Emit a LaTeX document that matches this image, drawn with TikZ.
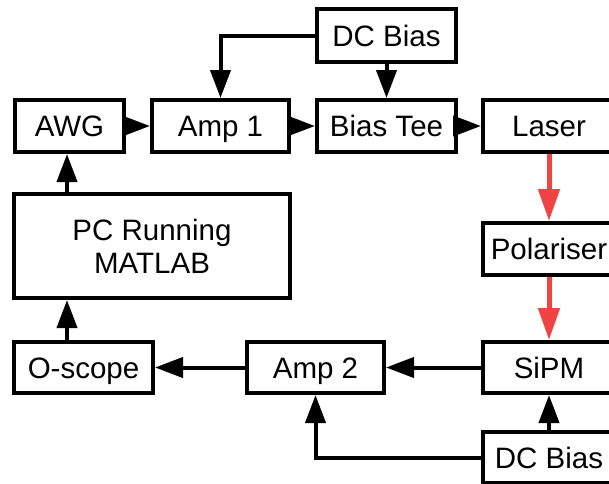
\documentclass[tikz,border=0pt]{standalone}
\usepackage{fontspec}
\setmainfont{Liberation Sans}
\usetikzlibrary{arrows.meta,calc}
\definecolor{beamred}{RGB}{240,68,68}
\begin{document}
\begin{tikzpicture}[x=1pt,y=-1pt,
  box/.style={draw=black,line width=4pt,inner sep=0pt,minimum height=52pt,
    font=\fontsize{29.5}{33}\selectfont,align=center},
  oneline/.style={box,text height=21.1pt,text depth=0pt},
  arr/.style={line width=4pt,-{Triangle[length=28pt,width=20pt]}},
  beam/.style={draw=beamred,line width=5pt,-{Triangle[length=32pt,width=21pt]}}]
\useasboundingbox (0,0) rectangle (609,483);
\clip (0,0) rectangle (609,483);
\node[oneline,minimum width=139pt,minimum height=53pt] (dctop) at (386.5,35.5) {DC Bias};
\node[oneline,minimum width=109pt] (awg) at (69.5,126) {AWG};
\node[oneline,minimum width=137pt] (amp1) at (220.5,126) {Amp 1};
\node[oneline,minimum width=139pt] (tee) at (386.5,126) {Bias Tee};
\node[oneline,minimum width=132pt] (laser) at (549,126) {Laser};
\node[box,minimum width=276pt,minimum height=104pt] (pc) at (152,246) {PC Running\\MATLAB};
\node[oneline,minimum width=132pt] (pol) at (549,249) {Polariser};
\node[oneline,minimum width=139pt,minimum height=51pt] (osc) at (83.5,367.5) {O-scope};
\node[oneline,minimum width=137pt,minimum height=51pt] (amp2) at (315.5,367.5) {Amp 2};
\node[oneline,minimum width=132pt,minimum height=51pt] (sipm) at (549,367.5) {SiPM};
\node[oneline,minimum width=132pt,minimum height=51pt] (dcbot) at (549,457.5) {DC Bias};
% top row
\draw[arr] (dctop.west) -| (amp1.north);
\draw[arr] (dctop.south) -- (tee.north);
\draw[arr] (awg.east) -- (amp1.west);
\draw[arr] (amp1.east) -- (tee.west);
\draw[arr] (tee.east) -- (laser.west);
% optical path
\draw[beam] (laser.south) -- (pol.north);
\draw[beam] (pol.south) -- (sipm.north);
% bottom row
\draw[arr] (sipm.west) -- (amp2.east);
\draw[arr] (amp2.west) -- (osc.east);
\draw[arr] ([xshift=-2.5pt]awg.south |- osc.north) -- ([xshift=-2.5pt]awg.south |- pc.south);
\draw[arr] ([xshift=-2.5pt]awg.south |- pc.north) -- ([xshift=-2.5pt]awg.south);
\draw[arr] (dcbot.north) -- (sipm.south);
\draw[arr] (dcbot.west) -| (amp2.south);
\end{tikzpicture}
\end{document}
